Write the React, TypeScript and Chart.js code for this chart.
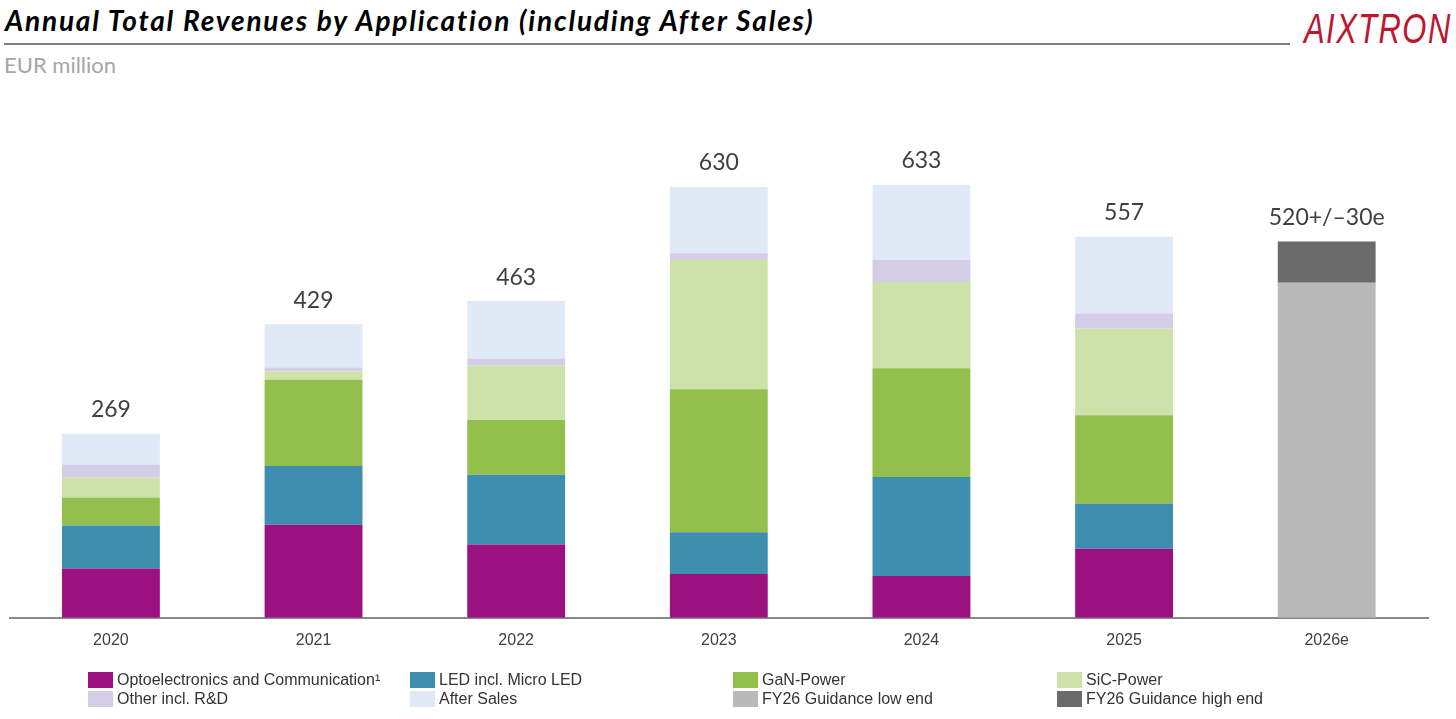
import React, { useEffect, useRef } from "react";
import { Chart, registerables } from "chart.js";

Chart.register(...registerables);

const categories = ["2020", "2021", "2022", "2023", "2024", "2025", "2026e"];
const opto = [72, 136, 107, 64, 61, 101, null];
const led = [63, 86, 102, 61, 145, 66, null];
const gan = [41, 126, 80, 209, 159, 129, null];
const sic = [29, 12, 80, 189, 126, 127, null];
const other = [19, 6, 10, 10, 32, 22, null];
const afterSales = [45, 63, 84, 97, 110, 112, null];
const guidanceLow = [null, null, null, null, null, null, 490];
const guidanceHigh = [null, null, null, null, null, null, 60];
const totalLabels = ["269", "429", "463", "630", "633", "557", "520+/–30e"];

const seriesNames = [
  "Optoelectronics and Communication¹",
  "LED incl. Micro LED",
  "GaN-Power",
  "SiC-Power",
  "Other incl. R&D",
  "After Sales",
  "FY26 Guidance low end",
  "FY26 Guidance high end",
];
const seriesColors = [
  "#9B1180",
  "#3E8FAF",
  "#93BF4C",
  "#CDE2A9",
  "#D3CDE8",
  "#E0EAF6",
  "#B8B9B8",
  "#6B6B6B",
];

const totalsPlugin = {
  id: "totals",
  afterDatasetsDraw(chart: any) {
    const { ctx } = chart;
    const xs = chart.scales.x;
    const ys = chart.scales.y;
    ctx.save();
    ctx.font = "23px Lato";
    ctx.fillStyle = "#404040";
    ctx.textAlign = "center";
    ctx.textBaseline = "middle";
    categories.forEach((_, i) => {
      let sum = 0;
      chart.data.datasets.forEach((ds: any) => {
        const v = ds.data[i];
        if (typeof v === "number") sum += v;
      });
      const x = xs.getPixelForValue(i);
      const y = ys.getPixelForValue(sum) - 24;
      ctx.fillText(totalLabels[i], x, y);
    });
    ctx.restore();
  },
};

export default function App() {
  const canvasRef = useRef<HTMLCanvasElement | null>(null);

  useEffect(() => {
    if (!canvasRef.current) return;
    const dataArrays = [opto, led, gan, sic, other, afterSales, guidanceLow, guidanceHigh];
    const chart = new Chart(canvasRef.current, {
      type: "bar",
      data: {
        labels: categories,
        datasets: dataArrays.map((d, i) => ({
          label: seriesNames[i],
          data: d as any,
          backgroundColor: seriesColors[i],
          borderWidth: 0,
          stack: "s",
          categoryPercentage: 1,
          barPercentage: 0.483,
        })),
      },
      options: {
        animation: false,
        responsive: true,
        maintainAspectRatio: false,
        layout: { padding: { left: 9.6, right: 28, top: 49, bottom: 64 } },
        plugins: {
          legend: { display: false },
          tooltip: { enabled: false },
        },
        scales: {
          x: {
            stacked: true,
            grid: { display: false },
            border: { display: true, color: "#8a8a8a", width: 2 },
            ticks: {
              padding: 5,
              color: "#404040",
              font: { family: "'Liberation Sans', Arial, sans-serif", size: 16 },
            },
          },
          y: {
            stacked: true,
            display: false,
            min: 0,
            max: 700,
          },
        },
      },
      plugins: [totalsPlugin],
    });
    return () => chart.destroy();
  }, []);

  const legendCols = [88, 410, 733, 1057];
  const legendRows = [672, 691];

  return (
    <div
      style={{
        position: "absolute",
        left: 0,
        top: 0,
        width: 1456,
        height: 719,
        background: "#ffffff",
        overflow: "hidden",
      }}
    >
      <div
        style={{
          position: "absolute",
          left: 5,
          top: 0,
          fontFamily: "Lato, sans-serif",
          fontWeight: 700,
          fontStyle: "italic",
          fontSize: 28,
          lineHeight: "40px",
          letterSpacing: 1.8,
          color: "#000",
          whiteSpace: "nowrap",
        }}
      >
        Annual Total Revenues by Application (including After Sales)
      </div>
      <div
        style={{
          position: "absolute",
          left: 4,
          top: 43,
          width: 1286,
          height: 1.5,
          background: "#7f7f7f",
        }}
      />
      <div
        style={{
          position: "absolute",
          left: 4,
          top: 50,
          fontFamily: "Lato, sans-serif",
          fontSize: 22,
          lineHeight: "30px",
          color: "#a6a6a6",
          whiteSpace: "nowrap",
        }}
      >
        EUR million
      </div>
      <div
        style={{
          position: "absolute",
          left: 1304,
          top: 3,
          fontFamily: "'Liberation Sans', Arial, sans-serif",
          fontStyle: "italic",
          fontSize: 43,
          lineHeight: "50px",
          color: "#BE1630",
          letterSpacing: 2,
          transform: "scaleX(0.72)",
          transformOrigin: "left top",
          whiteSpace: "nowrap",
        }}
      >
        AIXTRON
      </div>
      <div
        style={{
          position: "absolute",
          left: 0,
          top: 90,
          width: 1456,
          height: 629,
        }}
      >
        <canvas ref={canvasRef} />
      </div>
      {seriesNames.map((name, i) => {
        const col = i < 4 ? i : i - 4;
        const row = i < 4 ? 0 : 1;
        return (
          <div
            key={name}
            style={{
              position: "absolute",
              left: legendCols[col],
              top: legendRows[row],
              height: 16,
              display: "flex",
              alignItems: "center",
              whiteSpace: "nowrap",
            }}
          >
            <div
              style={{
                width: 25,
                height: 16,
                background: seriesColors[i],
                marginRight: 4,
              }}
            />
            <span
              style={{
                fontFamily: "'Liberation Sans', Arial, sans-serif",
                fontSize: 16,
                color: "#333333",
                lineHeight: "16px",
              }}
            >
              {name}
            </span>
          </div>
        );
      })}
    </div>
  );
}
